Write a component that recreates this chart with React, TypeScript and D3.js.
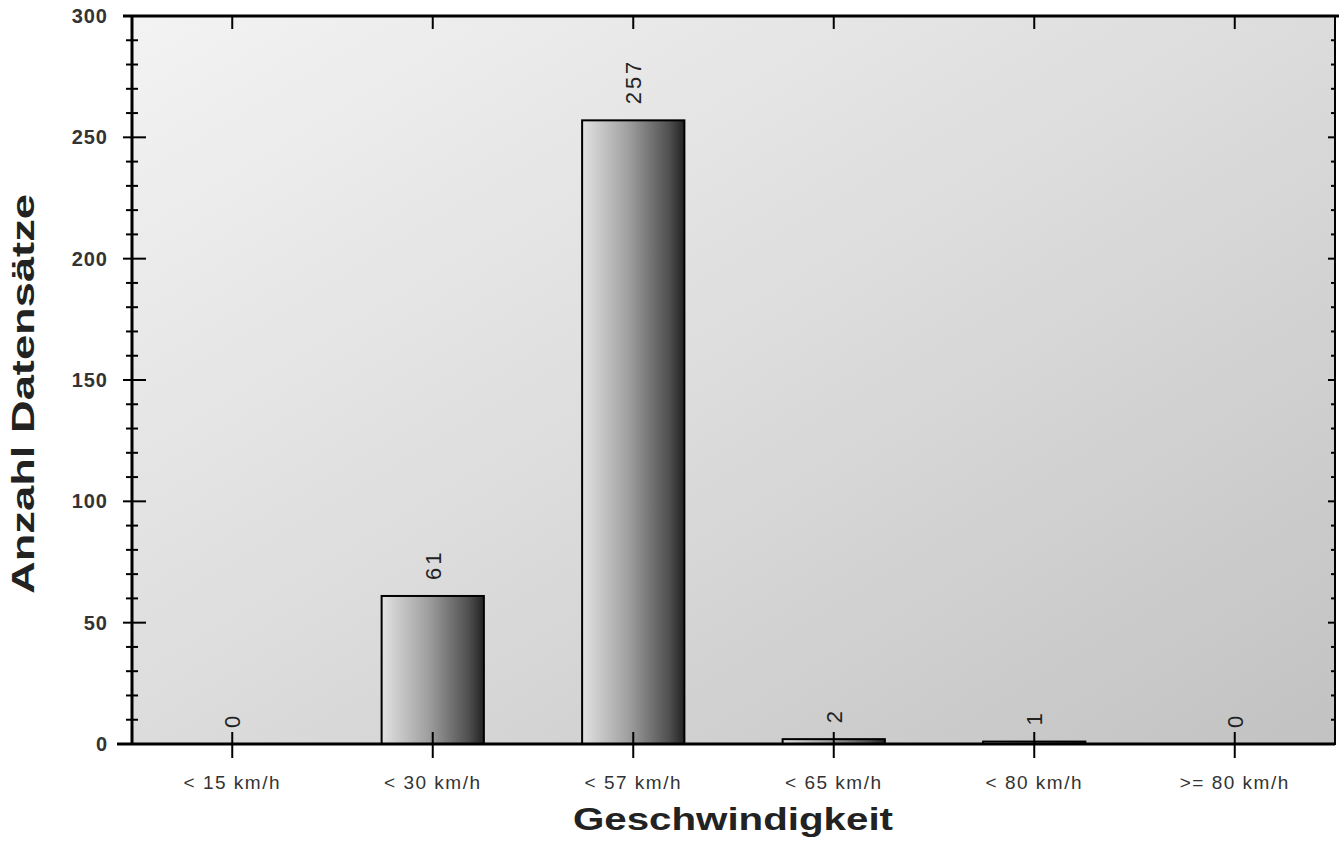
import React, { useRef, useEffect } from 'react';
import * as d3 from 'd3';

const categories = ['< 15 km/h', '< 30 km/h', '< 57 km/h', '< 65 km/h', '< 80 km/h', '>= 80 km/h'];
const counts = [0, 61, 257, 2, 1, 0];
const yTicks = [0, 50, 100, 150, 200, 250, 300];
const yMinorTicks = d3.range(0, 301, 10);

const W = 1339;
const H = 849;

const BarChart = () => {
  const ref = useRef<SVGSVGElement>(null);

  useEffect(() => {
    const svg = d3.select(ref.current);
    svg.selectAll('*').remove();

    const left = 132, right = 1335, top = 16, bottom = 744;
    const font = 'Arial, "Liberation Sans", sans-serif';

    const x = d3.scaleBand().domain(categories).range([left, right])
      .paddingInner(0.49).paddingOuter(0.245);
    const y = d3.scaleLinear().domain([0, 300]).range([bottom, top]);
    const cx = (c: string) => x(c) + x.bandwidth() / 2;

    const defs = svg.append('defs');
    // plot background: diagonal grey wash
    const bg = defs.append('linearGradient').attr('id', 'bg')
      .attr('x1', '0').attr('y1', '0').attr('x2', '1').attr('y2', '1');
    bg.append('stop').attr('offset', '0').attr('stop-color', '#f3f3f3');
    bg.append('stop').attr('offset', '0.5').attr('stop-color', '#dcdcdc');
    bg.append('stop').attr('offset', '1').attr('stop-color', '#c2c2c2');

    // bars: light on the left, dark on the right
    const bar = defs.append('linearGradient').attr('id', 'bar')
      .attr('x1', '0').attr('y1', '0').attr('x2', '1').attr('y2', '0');
    bar.append('stop').attr('offset', '0').attr('stop-color', '#e2e2e2');
    bar.append('stop').attr('offset', '0.45').attr('stop-color', '#a0a0a0');
    bar.append('stop').attr('offset', '0.85').attr('stop-color', '#505050');
    bar.append('stop').attr('offset', '1').attr('stop-color', '#222');

    svg.append('rect')
      .attr('x', left).attr('y', top)
      .attr('width', right - left).attr('height', bottom - top)
      .attr('fill', 'url(#bg)');

    // bars
    svg.selectAll('rect.bar')
      .data(counts)
      .join('rect')
      .attr('class', 'bar')
      .attr('x', (d, i) => x(categories[i]))
      .attr('y', d => y(d))
      .attr('width', x.bandwidth())
      .attr('height', d => bottom - y(d))
      .attr('fill', 'url(#bar)')
      .attr('stroke', '#000')
      .attr('stroke-width', d => (d > 0 ? 2 : 0));

    // value labels, rotated
    svg.selectAll('text.val')
      .data(counts)
      .join('text')
      .attr('class', 'val')
      .attr('transform', (d, i) => `translate(${cx(categories[i]) + 8},${y(d) - 16}) rotate(-90)`)
      .attr('font-family', font)
      .attr('font-size', 22)
      .attr('letter-spacing', 3)
      .attr('fill', '#222')
      .text(d => d);

    // frame
    const frame = svg.append('g').attr('stroke', '#000').attr('fill', 'none');
    frame.append('line').attr('x1', left - 9).attr('x2', W).attr('y1', top).attr('y2', top).attr('stroke-width', 3);
    frame.append('line').attr('x1', left - 15).attr('x2', right).attr('y1', bottom).attr('y2', bottom).attr('stroke-width', 3);
    frame.append('line').attr('x1', left).attr('x2', left).attr('y1', top).attr('y2', bottom).attr('stroke-width', 3);
    frame.append('line').attr('x1', right).attr('x2', right).attr('y1', top).attr('y2', bottom + 1).attr('stroke-width', 2);

    // y ticks, left and right side
    const isMajor = (v: number) => v % 50 === 0;
    frame.selectAll('line.yl')
      .data(yMinorTicks)
      .join('line')
      .attr('class', 'yl')
      .attr('x1', d => (isMajor(d) ? left - 9 : left - 6))
      .attr('x2', d => (isMajor(d) ? left + 14 : left + 6))
      .attr('y1', d => y(d)).attr('y2', d => y(d))
      .attr('stroke-width', 2);
    frame.selectAll('line.yr')
      .data(yMinorTicks)
      .join('line')
      .attr('class', 'yr')
      .attr('x1', d => (isMajor(d) ? right - 7 : right - 4))
      .attr('x2', right)
      .attr('y1', d => y(d)).attr('y2', d => y(d))
      .attr('stroke-width', 2);

    // x ticks, bottom and top
    frame.selectAll('line.xb')
      .data(categories)
      .join('line')
      .attr('class', 'xb')
      .attr('x1', d => cx(d)).attr('x2', d => cx(d))
      .attr('y1', bottom - 12).attr('y2', bottom + 14)
      .attr('stroke-width', 2);
    frame.selectAll('line.xt')
      .data(categories)
      .join('line')
      .attr('class', 'xt')
      .attr('x1', d => cx(d)).attr('x2', d => cx(d))
      .attr('y1', top).attr('y2', top + 13)
      .attr('stroke-width', 2);

    // y tick labels
    svg.selectAll('text.yt')
      .data(yTicks)
      .join('text')
      .attr('class', 'yt')
      .attr('x', 108)
      .attr('y', d => y(d) + 7)
      .attr('text-anchor', 'end')
      .attr('font-family', font)
      .attr('font-weight', 'bold')
      .attr('font-size', 20)
      .attr('letter-spacing', 1)
      .attr('fill', '#333')
      .text(d => d);

    // x tick labels
    svg.selectAll('text.xlab')
      .data(categories)
      .join('text')
      .attr('class', 'xlab')
      .attr('x', d => cx(d))
      .attr('y', 789)
      .attr('text-anchor', 'middle')
      .attr('font-family', font)
      .attr('font-size', 19)
      .attr('letter-spacing', 1.5)
      .attr('fill', '#333')
      .text(d => d);

    // axis titles
    svg.append('text')
      .attr('x', 733).attr('y', 830)
      .attr('text-anchor', 'middle')
      .attr('font-family', font)
      .attr('font-weight', 'bold')
      .attr('font-size', 32)
      .attr('textLength', 320)
      .attr('lengthAdjust', 'spacingAndGlyphs')
      .attr('fill', '#222')
      .text('Geschwindigkeit');

    svg.append('text')
      .attr('transform', `translate(34,${(top + bottom) / 2 + 14}) rotate(-90)`)
      .attr('text-anchor', 'middle')
      .attr('font-family', font)
      .attr('font-weight', 'bold')
      .attr('font-size', 32)
      .attr('textLength', 400)
      .attr('lengthAdjust', 'spacingAndGlyphs')
      .attr('fill', '#222')
      .text('Anzahl Datensätze');
  }, []);

  return (
    <svg ref={ref} width={W} height={H}
      style={{ position: 'absolute', left: 0, top: 0, background: '#fff' }} />
  );
};

export default function App() {
  return <BarChart />;
}
